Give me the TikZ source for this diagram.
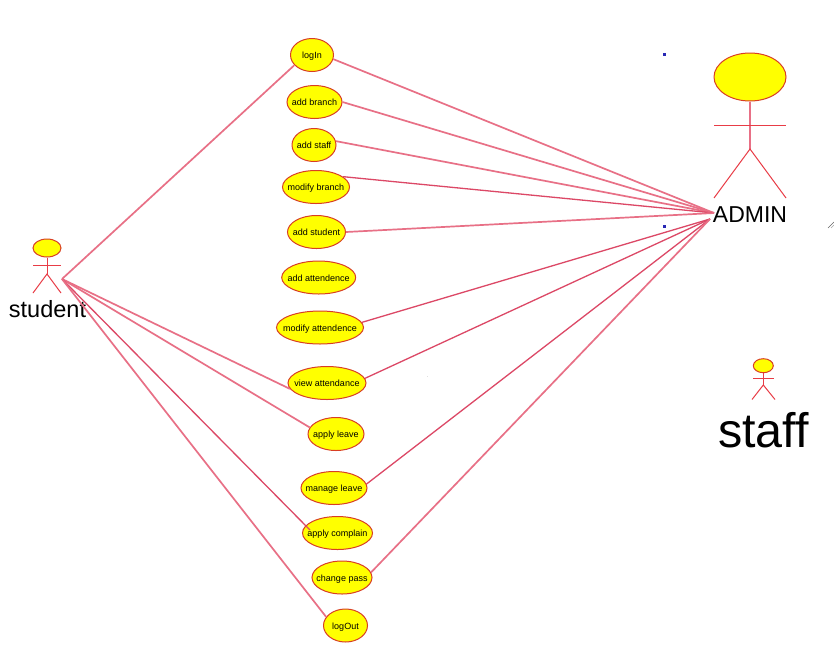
\documentclass[tikz,border=0pt]{standalone}
\usepackage{fontspec}
\setmainfont{Liberation Sans}
\usetikzlibrary{shapes.geometric}
\definecolor{edgeline}{RGB}{216,62,36}
\definecolor{actorline}{RGB}{232,60,70}
\definecolor{assocpink}{RGB}{232,112,134}
\definecolor{assocdark}{RGB}{220,72,102}
\definecolor{ucfill}{RGB}{255,255,0}
\definecolor{speck}{RGB}{40,40,180}
\newcommand{\uclabel}[1]{\raisebox{-3.7pt}[0pt][0pt]{\makebox[0pt][c]{#1}}}
\tikzset{
  x=1pt,y=-1pt,
  usecase/.style={ellipse,draw=edgeline,fill=ucfill,line width=1pt,inner sep=0pt,minimum height=33pt,font=\fontsize{9}{9}\selectfont,text=black},
  head/.style={ellipse,draw=edgeline,fill=ucfill,line width=1pt,inner sep=0pt},
  limb/.style={draw=actorline,line width=1pt},
  spine/.style={draw=assocpink,line width=1.4pt},
  assoc/.style={draw=assocpink,line width=1.7pt},
  assocd/.style={draw=assocdark,line width=1.3pt},
  actorname/.style={anchor=base,text=black,inner sep=0pt},
}
\begin{document}
\begin{tikzpicture}
\useasboundingbox[fill=white] (0,0) rectangle (834,662);
% use cases
\node[usecase,minimum width=43pt] (login) at (312,55) {\uclabel{logIn}};
\node[usecase,minimum width=55pt] (addbranch) at (314.5,102) {\uclabel{add branch}};
\node[usecase,minimum width=44pt] (addstaff) at (314,145) {\uclabel{add staff}};
\node[usecase,minimum width=67pt] (modbranch) at (316,187) {\uclabel{modify branch}};
\node[usecase,minimum width=58pt] (addstudent) at (316.5,232) {\uclabel{add student}};
\node[usecase,minimum width=74pt] (addatt) at (318.7,277.5) {\uclabel{add attendence}};
\node[usecase,minimum width=87pt] (modatt) at (320,327.5) {\uclabel{modify attendence}};
\node[usecase,minimum width=78pt] (viewatt) at (327,383) {\uclabel{view attendance}};
\node[usecase,minimum width=56pt] (applyleave) at (336,434) {\uclabel{apply leave}};
\node[usecase,minimum width=66pt] (manageleave) at (334,488) {\uclabel{manage leave}};
\node[usecase,minimum width=70pt] (applycomplain) at (337.5,533) {\uclabel{apply complain}};
\node[usecase,minimum width=60pt] (changepass) at (342,577.5) {\uclabel{change pass}};
\node[usecase,minimum width=44pt] (logout) at (345.5,625.5) {\uclabel{logOut}};
% actors
\node[head,minimum width=72pt,minimum height=48pt] (adminhead) at (750,77) {};
\coordinate (adminhip) at (750,149);
\coordinate (adminl) at (714,125);
\coordinate (adminr) at (786,125);
\coordinate (adminfl) at (714,198);
\coordinate (adminfr) at (786,198);
\draw[spine] (adminhead.south) -- (adminhip);
\draw[limb] (adminl) -- (adminr);
\draw[limb] (adminfl) -- (adminhip) -- (adminfr);
\node[actorname,font=\fontsize{23}{23}\selectfont] (adminlabel) at (750,222) {ADMIN};
\node[head,minimum width=28pt,minimum height=18pt] (studenthead) at (47,248) {};
\coordinate (studenthip) at (47,274);
\coordinate (studentl) at (33,265);
\coordinate (studentr) at (61,265);
\coordinate (studentfl) at (33,293);
\coordinate (studentfr) at (61,293);
\draw[limb] (studenthead.south) -- (studenthip);
\draw[limb] (studentl) -- (studentr);
\draw[limb] (studentfl) -- (studenthip) -- (studentfr);
\node[actorname,font=\fontsize{23.5}{23.5}\selectfont] (studentlabel) at (47.5,317) {student};
\node[head,minimum width=20pt,minimum height=14pt] (staffhead) at (763.3,365.7) {};
\coordinate (staffhip) at (763.3,385);
\coordinate (staffl) at (753,378);
\coordinate (staffr) at (773.5,378);
\coordinate (stafffl) at (752,399.5);
\coordinate (stafffr) at (775,399.5);
\draw[limb] (staffhead.south) -- (staffhip);
\draw[limb] (staffl) -- (staffr);
\draw[limb] (stafffl) -- (staffhip) -- (stafffr);
\node[actorname,font=\fontsize{48.5}{48.5}\selectfont] (stafflabel) at (763.5,447) {staff};
% hubs
\coordinate (studenthub) at (62,279);
\coordinate (adminhubup) at (714,213);
\coordinate (adminhublow) at (710,219);
\coordinate (complainend) at (310,530);
% student associations
\draw[assoc] (studenthub) -- (login.210);
\draw[assoc] (studenthub) -- (viewatt.189);
\draw[assoc] (studenthub) -- (applyleave.166);
\draw[assocd] (studenthub) -- (complainend);
\draw[assoc] (studenthub) -- (logout.156);
% admin associations
\draw[assoc] (login.-11) -- (adminhubup);
\draw[assoc] (addbranch.0) -- (adminhubup);
\draw[assoc] (addstaff.10) -- (adminhubup);
\draw[assocd] (modbranch.21) -- (adminhubup);
\draw[assoc] (addstudent.0) -- (adminhubup);
\draw[assocd] (modatt.7) -- (adminhublow);
\draw[assocd] (viewatt.7) -- (adminhublow);
\draw[assocd] (manageleave.7) -- (adminhublow);
\draw[assoc] (changepass.10) -- (adminhublow);
% specks
\fill[speck] (663,53) rectangle (665.5,55.5);
\fill[speck] (663,225) rectangle (665.5,227.5);
\fill[black!12] (426.5,375.5) rectangle (428,377);
\draw[black!60,line width=0.6pt] (828,228) -- (834,222);
\draw[black!35,line width=0.6pt] (831,228) -- (834,225);
\end{tikzpicture}
\end{document}
